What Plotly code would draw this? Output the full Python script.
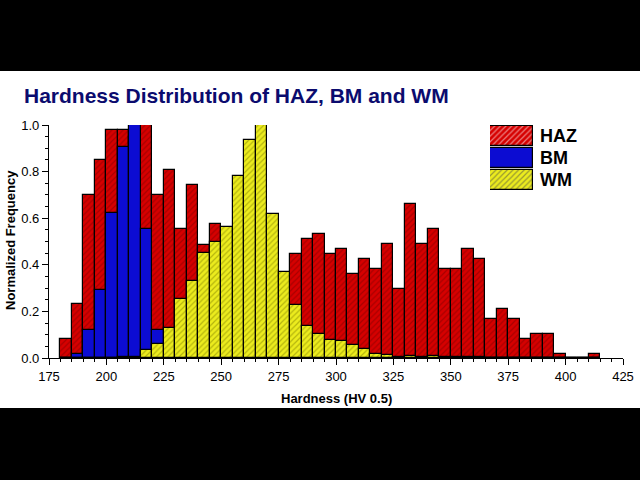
import plotly.graph_objects as go

# ---- data ----
bin_start = [180, 185, 190, 195, 200, 205, 210, 215, 220, 225, 230, 235, 240, 245,
             250, 255, 260, 265, 270, 275, 280, 285, 290, 295, 300, 305, 310, 315,
             320, 325, 330, 335, 340, 345, 350, 355, 360, 365, 370, 375, 380, 385,
             390, 395, 400, 405, 410]
bin_width = 5

haz = [0.083, 0.233, 0.70, 0.85, 0.98, 0.98, 0.95, 1.0, 0.70, 0.807, 0.553, 0.744,
       0.487, 0.574, 0.50, 0.55, 0.45, 0.45, 0.45, 0.35, 0.446, 0.51, 0.531, 0.446,
       0.467, 0.361, 0.424, 0.383, 0.489, 0.297, 0.659, 0.489, 0.553, 0.381, 0.381,
       0.467, 0.424, 0.167, 0.21, 0.167, 0.081, 0.103, 0.103, 0.017, 0.0, 0.0, 0.017]
bm = [0.0, 0.017, 0.12, 0.29, 0.624, 0.907, 1.0, 0.553, 0.12, 0, 0, 0, 0, 0, 0, 0, 0,
      0, 0, 0, 0, 0, 0, 0, 0, 0, 0, 0, 0, 0, 0, 0, 0, 0, 0, 0, 0, 0, 0, 0, 0, 0, 0, 0,
      0, 0, 0]
wm = [0, 0, 0, 0, 0, 0.005, 0.005, 0.036, 0.059, 0.13, 0.254, 0.329, 0.45, 0.499,
      0.564, 0.78, 0.936, 1.0, 0.619, 0.369, 0.226, 0.139, 0.101, 0.079, 0.074, 0.057,
      0.039, 0.016, 0.011, 0.003, 0.01, 0.006, 0.008, 0.005, 0.005, 0.004, 0.003, 0,
      0, 0, 0, 0, 0, 0, 0, 0, 0]

series_names = ["HAZ", "BM", "WM"]
x_ticks = [175, 200, 225, 250, 275, 300, 325, 350, 375, 400, 425]
y_ticks = [0.0, 0.2, 0.4, 0.6, 0.8, 1.0]

title_text = "Hardness Distribution of HAZ, BM and WM"
x_title = "Hardness (HV 0.5)"
y_title = "Normalized Frequency"

# ---- styles ----
FONT = "Arial, Liberation Sans, sans-serif"
RED, RED_FG = "#d60000", "#7a0000"
BLUE = "#0c0cd2"
YEL, YEL_FG = "#ecec1e", "#7d7d00"

centers = [b + bin_width / 2 for b in bin_start]

styles = {
    "HAZ": dict(color=RED, pattern=dict(shape="/", fgcolor=RED_FG, size=4, solidity=0.3)),
    "BM": dict(color=BLUE, pattern=dict(shape="")),
    "WM": dict(color=YEL, pattern=dict(shape="/", fgcolor=YEL_FG, size=4, solidity=0.3)),
}

fig = go.Figure()
for name, vals in zip(series_names, [haz, bm, wm]):
    st = styles[name]
    fig.add_trace(go.Bar(
        x=centers, y=vals, width=bin_width, name=name, showlegend=False,
        marker=dict(color=st["color"], pattern=st["pattern"],
                    line=dict(color="black", width=1.2)),
    ))

# legend drawn as an inset bar chart
fig.add_trace(go.Bar(
    x=[1, 1, 1], y=series_names, orientation="h", width=0.93,
    xaxis="x2", yaxis="y2", showlegend=False, hoverinfo="skip",
    marker=dict(color=[styles[n]["color"] for n in series_names],
                pattern=dict(shape=["/", "", "/"],
                             fgcolor=[RED_FG, BLUE, YEL_FG], size=4, solidity=0.3),
                line=dict(color="black", width=1.2)),
))

# plot area geometry (pixels)
L, R, T, B = 49, 17, 125, 122
W, H = 640, 480
pw, ph = W - L - R, H - T - B

def px2paper_x(px):
    return (px - L) / pw

def px2paper_y(py):
    return (H - B - py) / ph

fig.update_layout(
    width=W, height=H, autosize=False,
    margin=dict(l=L, r=R, t=T, b=B, pad=0),
    paper_bgcolor="black", plot_bgcolor="white",
    barmode="overlay", bargap=0,
    font=dict(family=FONT, color="black", size=13),
    xaxis=dict(range=[175, 425], tickvals=x_ticks, ticks="outside", ticklen=6,
               tickwidth=1.2, tickcolor="black", showline=True, linecolor="black",
               linewidth=1.2, showgrid=False, zeroline=False, automargin=False,
               tickfont=dict(size=13, family=FONT),
               minor=dict(dtick=5, ticks="outside", ticklen=3, tickcolor="black",
                          tickwidth=1, showgrid=False)),
    yaxis=dict(range=[0, 1.0], tickvals=y_ticks, ticktext=[f"{v:.1f}" for v in y_ticks],
               ticks="outside", ticklen=6, tickwidth=1.2, tickcolor="black",
               showline=True, linecolor="black", linewidth=1.2, showgrid=False,
               zeroline=False, automargin=False, tickfont=dict(size=13, family=FONT),
               minor=dict(dtick=0.05, ticks="outside", ticklen=3, tickcolor="black",
                          tickwidth=1, showgrid=False)),
    xaxis2=dict(domain=[px2paper_x(490), px2paper_x(533)], anchor="y2", range=[0, 1],
                visible=False, fixedrange=True, automargin=False),
    yaxis2=dict(domain=[px2paper_y(191), 1.0], anchor="x2", side="right",
                type="category", categoryorder="array",
                categoryarray=list(reversed(series_names)),
                tickmode="array", tickvals=series_names, ticktext=series_names,
                showline=False, showgrid=False, zeroline=False, ticks="",
                ticklabelstandoff=6, automargin=False,
                tickfont=dict(size=18, family=FONT, color="black", weight="bold")),
    shapes=[dict(type="rect", xref="paper", yref="paper", layer="below",
                 x0=px2paper_x(-2), x1=px2paper_x(642),
                 y0=px2paper_y(408), y1=px2paper_y(71),
                 fillcolor="white", line=dict(width=0))],
    annotations=[
        dict(text=title_text, xref="paper", yref="paper", x=px2paper_x(22),
             y=px2paper_y(95), xanchor="left", yanchor="middle", showarrow=False,
             font=dict(size=21, family=FONT, color="#0b0b6e", weight="bold")),
        dict(text=x_title, xref="paper", yref="paper", x=px2paper_x(336),
             y=px2paper_y(398), xanchor="center", yanchor="middle", showarrow=False,
             font=dict(size=13, family=FONT, color="black", weight="bold")),
        dict(text=y_title, xref="paper", yref="paper", x=px2paper_x(10),
             y=px2paper_y(240), xanchor="center", yanchor="middle", showarrow=False,
             textangle=-90,
             font=dict(size=13, family=FONT, color="black", weight="bold")),
    ],
)

fig.write_html("out.html",
               config=dict(displayModeBar=False, responsive=False),
               post_script="document.body.style.margin='0';"
                           "document.body.style.overflow='hidden';"
                           "document.body.style.background='black';")
